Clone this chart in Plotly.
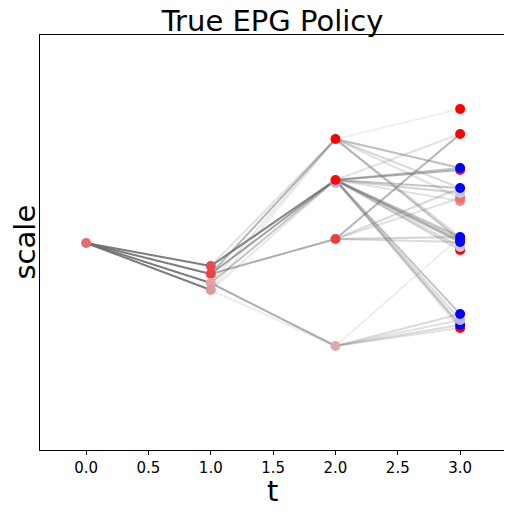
import plotly.graph_objects as go

# time steps
t_steps = [0, 1, 2, 3]

# node scales and colours at each step (drawn bottom to top)
scale_t0 = [2.07]
color_t0 = ["#e86a6a"]

scale_t1 = [1.84, 1.76, 1.67, 1.60]
color_t1 = ["#ea4a4a", "#ec4444", "#e3a3a3", "#e09898"]

scale_t2 = [3.11, 2.67, 2.70, 2.11, 1.04]
color_t2 = ["#ff0000", "#b0b0e4", "#ff0808", "#ef3c3c", "#dcaaaa"]

scale_t3 = [3.41, 3.16, 2.80, 2.82, 2.49, 2.52, 2.57, 2.62,
            2.00, 2.03, 2.08, 2.10, 2.13, 1.22, 1.25, 1.30, 1.36]
color_t3 = ["#ff0000", "#ff0000", "#ff1010", "#0000ff", "#e88888", "#ee7070", "#c8c8ea", "#0000ff",
            "#ff0000", "#d8c0d0", "#0000ff", "#0a0aff", "#0000ff", "#ff0000", "#0000ff", "#b8b8e8", "#0000ff"]

# transitions: source index, target index, line opacity
edges_01_src = [0, 0, 0, 0]
edges_01_dst = [0, 1, 2, 3]
edges_01_alpha = [0.9, 0.9, 0.9, 0.9]

edges_12_src = [0, 1, 2, 3, 0, 1, 2, 3, 1, 2, 3, 0]
edges_12_dst = [2, 2, 2, 2, 0, 0, 0, 0, 3, 4, 4, 2]
edges_12_alpha = [0.7, 0.65, 0.4, 0.15, 0.2, 0.5, 0.15, 0.12, 0.55, 0.55, 0.12, 0.45]

edges_23_src = [0, 0, 0, 0, 0, 0,
                2, 2, 2, 2, 2, 2, 2, 2, 2, 2, 2, 2, 2, 2, 2,
                3, 3, 3, 3, 3,
                4, 4, 4, 4, 4]
edges_23_dst = [0, 3, 7, 11, 12, 5,
                1, 2, 3, 7, 6, 4, 10, 11, 12, 9, 8, 16, 14, 15, 13,
                1, 7, 5, 12, 10,
                12, 16, 14, 15, 13]
edges_23_alpha = [0.1, 0.45, 0.25, 0.4, 0.25, 0.2,
                  0.2, 0.5, 0.4, 0.4, 0.3, 0.2, 0.45, 0.4, 0.4, 0.25, 0.3, 0.4, 0.4, 0.25, 0.2,
                  0.5, 0.25, 0.2, 0.3, 0.25,
                  0.12, 0.25, 0.25, 0.2, 0.2]

steps = [scale_t0, scale_t1, scale_t2, scale_t3]
colors = [color_t0, color_t1, color_t2, color_t3]
transitions = [
    (edges_01_src, edges_01_dst, edges_01_alpha),
    (edges_12_src, edges_12_dst, edges_12_alpha),
    (edges_23_src, edges_23_dst, edges_23_alpha),
]

fig = go.Figure()

# gray trajectory segments
for k, (src, dst, alpha) in enumerate(transitions):
    for s, d, a in zip(src, dst, alpha):
        fig.add_trace(go.Scatter(
            x=[t_steps[k], t_steps[k + 1]],
            y=[steps[k][s], steps[k + 1][d]],
            mode="lines",
            line=dict(color=f"rgba(110,110,110,{a})", width=2),
            hoverinfo="skip",
            showlegend=False,
        ))

# markers at each step
for k in range(len(t_steps)):
    fig.add_trace(go.Scatter(
        x=[t_steps[k]] * len(steps[k]),
        y=steps[k],
        mode="markers",
        marker=dict(color=colors[k], size=10, line=dict(width=0)),
        showlegend=False,
    ))

# page body adds ~8px offset, so the figure is a bit smaller
fig.update_layout(
    width=504,
    height=504,
    margin=dict(l=32, r=7, t=27, b=62),
    plot_bgcolor="white",
    paper_bgcolor="white",
    font=dict(family="DejaVu Sans", color="black"),
    title=dict(text="True EPG Policy", font=dict(size=29), x=0.5, xref="paper",
               y=1 - 13 / 504, yanchor="middle"),
)
# axis titles as annotations so they don't push the margins
fig.add_annotation(text="t", x=0.5, xref="paper", y=-41 / 415, yref="paper",
                   yanchor="middle", showarrow=False, font=dict(size=29))
fig.add_annotation(text="scale", x=-16 / 465, xref="paper", y=0.5, yref="paper",
                   xanchor="center", textangle=-90, showarrow=False, font=dict(size=29))
fig.update_xaxes(
    range=[-0.37, 3.36],
    tickvals=[0, 0.5, 1, 1.5, 2, 2.5, 3],
    tickformat=".1f",
    ticks="outside", ticklen=4, tickcolor="black",
    tickfont=dict(size=15),
    showline=True, linecolor="black", linewidth=1, mirror=True,
    showgrid=False, zeroline=False, automargin=False,
)
fig.update_yaxes(
    range=[0, 4.15],
    showticklabels=False, ticks="",
    showline=True, linecolor="black", linewidth=1, mirror=True,
    showgrid=False, zeroline=False, automargin=False,
)

fig.write_html("out.html")
